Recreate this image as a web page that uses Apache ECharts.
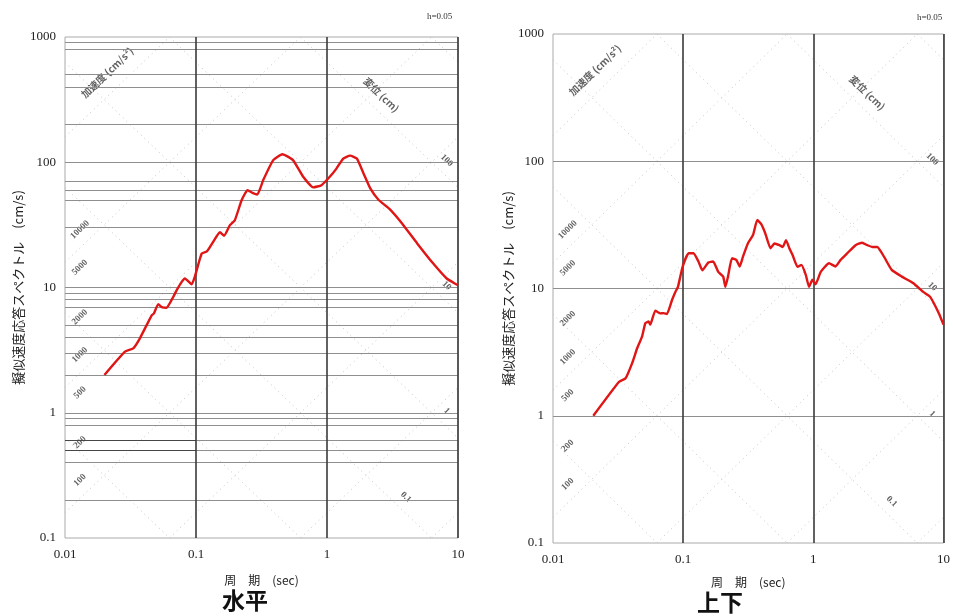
<!DOCTYPE html>
<html><head><meta charset="utf-8">
<script src="https://cdn.jsdelivr.net/npm/echarts@6/dist/echarts.min.js"></script>
<style>html,body{margin:0;padding:0;background:#fff}#c{width:953px;height:616px}</style>
</head><body><div id="c"></div>
<script>
// ---- data ----
const xTicks = [0.01, 0.1, 1, 10];
const yTicks = [0.1, 1, 10, 100, 1000];
// 水平 (horizontal) pseudo-velocity response spectrum
const hPeriod = [0.020,0.0287,0.0332,0.0373,0.0459,0.0477,0.0515,0.0548,0.0596,0.0671,0.0711,0.0778,0.0823,0.0926,0.098,0.1105,0.121,0.1354,0.1523,0.164,0.1816,0.198,0.2233,0.2475,0.2696,0.294,0.326,0.3886,0.457,0.55,0.658,0.786,0.908,1.05,1.18,1.33,1.50,1.69,1.90,2.14,2.48,2.97,3.65,4.88,6.45,8.2,9.7,10];
const hSv     = [2.0,3.07,3.27,3.93,6.0,6.2,7.37,6.98,6.9,8.43,9.5,11.1,11.8,10.6,12.2,18.7,19.4,23.2,27.6,25.9,31.5,34.5,49.9,59.9,57,55.3,72,104,116,104,76.5,63,65.6,76.5,89,107,113,107,81.4,61.8,50,42.8,33.5,22.5,15.6,11.8,10.6,10.4];
// 上下 (vertical) pseudo-velocity response spectrum
const vPeriod = [0.0204,0.0322,0.0361,0.0405,0.0443,0.0483,0.0512,0.0543,0.0559,0.0611,0.0669,0.0707,0.075,0.0821,0.0871,0.0912,0.099,0.110,0.120,0.131,0.1405,0.156,0.170,0.186,0.203,0.211,0.221,0.237,0.256,0.272,0.288,0.314,0.344,0.371,0.398,0.427,0.469,0.503,0.549,0.582,0.617,0.654,0.693,0.756,0.811,0.875,0.927,0.983,1.04,1.14,1.32,1.48,1.62,1.82,2.11,2.37,2.6,2.84,3.1,3.49,4.0,4.78,5.87,6.99,7.9,9.2,10];
const vSv     = [1.0,1.85,1.97,2.58,3.39,4.18,5.33,5.5,5.2,6.7,6.37,6.4,6.3,8.12,9.4,10.3,14.8,18.9,18.9,16.3,13.9,16.0,16.3,13.5,12.4,10.3,12.4,17.3,16.8,14.9,17.8,22.6,26.3,34.5,32.1,27.2,20.7,22.6,21.9,21.2,24.0,20.7,18.3,14.8,15.3,12.8,10.3,11.7,10.8,13.5,15.8,14.9,16.8,18.9,21.9,22.9,21.9,21.2,21.2,17.8,14.0,12.4,11.0,9.4,8.6,6.4,5.2];
// horizontal grid lines drawn in each panel
const leftHLines  = [0.2,0.4,0.5,0.6,0.8,0.9,1,2,3,4,5,7,8,9,10,30,50,60,70,100,200,400,500,800,900];
const leftShortLines = [0.5, 0.6];     // thin dark segments from 0.01 to 0.1
const rightHLines = [1, 10, 100];
const darkVLines  = [0.1, 1, 10];
// tripartite diagonals
const accelLines = [0.1,1,10,100,1000,10000,100000];
const dispLines  = [0.0001,0.001,0.01,0.1,1,10,100,1000];
const accelLabels = [100,200,500,1000,2000,5000,10000];
const dispLabels  = [100,10,1,0.1];
const dispLabelT  = [8.2,8.2,8.2,4.0];
const panelTitles = ['水平','上下'];

// ---- build ----
const TMIN=0.01,TMAX=10,SMIN=0.1,SMAX=1000,TWO_PI=2*Math.PI;
function accelSeg(A){
  const t1=Math.max(TMIN,TWO_PI*SMIN/A), t2=Math.min(TMAX,TWO_PI*SMAX/A);
  if(t1>=t2) return null;
  return [[t1,A*t1/TWO_PI],[t2,A*t2/TWO_PI]];
}
function dispSeg(D){
  const t1=Math.max(TMIN,TWO_PI*D/SMAX), t2=Math.min(TMAX,TWO_PI*D/SMIN);
  if(t1>=t2) return null;
  return [[t1,TWO_PI*D/t1],[t2,TWO_PI*D/t2]];
}
const fmt = v => String(+(+v).toPrecision(3));
const serif = 'Liberation Serif';
const jp = 'Noto Sans CJK JP';

const series=[];
function panel(gi, per, sv, hLines, shortLines){
  const diag={color:'#c4c4c4',width:1,type:[1,4]};
  accelLines.forEach(A=>{const s=accelSeg(A); if(s) series.push({type:'line',xAxisIndex:gi,yAxisIndex:gi,data:s,symbol:'none',silent:true,z:1,lineStyle:diag});});
  dispLines.forEach(D=>{const s=dispSeg(D); if(s) series.push({type:'line',xAxisIndex:gi,yAxisIndex:gi,data:s,symbol:'none',silent:true,z:1,lineStyle:diag});});
  // grid lines
  const ml=[];
  hLines.forEach(v=>ml.push({yAxis:v,lineStyle:{color:'#8f8f8f',width:1,type:'solid'}}));
  shortLines.forEach(v=>ml.push([{coord:[TMIN,v],lineStyle:{color:'#333',width:0.8,type:'solid'}},{coord:[0.1,v]}]));
  darkVLines.forEach(v=>ml.push({xAxis:v,lineStyle:{color:'#3a3a3a',width:1.6,type:'solid'}}));
  series.push({type:'line',xAxisIndex:gi,yAxisIndex:gi,data:[[1,1]],symbol:'none',lineStyle:{opacity:0},silent:true,z:2,
    markLine:{silent:true,symbol:'none',label:{show:false},animation:false,precision:6,lineStyle:{type:'solid'},data:ml}});
  // tripartite labels
  const labs=[];
  accelLabels.forEach(A=>{const T=0.013; labs.push({name:String(A),value:[T,A*T/TWO_PI*1.4],label:{rotate:44}});});
  dispLabels.forEach((D,i)=>{const T=dispLabelT[i]; labs.push({name:String(D),value:[T,TWO_PI*D/T*1.35],label:{rotate:-44}});});
  labs.push({name:'加速度 (cm/s²)',value:[0.021,520],label:{rotate:44,fontSize:10,fontFamily:jp}});
  labs.push({name:'変位 (cm)',value:[2.6,345],label:{rotate:-44,fontSize:10,fontFamily:jp}});
  series.push({type:'scatter',xAxisIndex:gi,yAxisIndex:gi,data:labs,symbolSize:0,silent:true,z:3,
    label:{show:true,position:'inside',formatter:p=>p.name,fontSize:9,fontWeight:'bold',color:'#3a3a3a',fontFamily:serif}});
  // spectrum curve
  series.push({type:'line',xAxisIndex:gi,yAxisIndex:gi,data:per.map((t,i)=>[t,sv[i]]),symbol:'none',smooth:0.15,z:10,
    lineStyle:{color:'#e01515',width:2.4}});
}
panel(0,hPeriod,hSv,leftHLines,leftShortLines);
panel(1,vPeriod,vSv,rightHLines,[]);

function xAx(gi,gap){return {type:'log',logBase:10,gridIndex:gi,min:TMIN,max:TMAX,
  axisLine:{show:false},axisTick:{show:false},splitLine:{show:false},minorSplitLine:{show:false},
  axisLabel:{formatter:fmt,fontSize:13,fontFamily:serif,color:'#222',margin:10,showMinLabel:true,showMaxLabel:true},
  name:'周　期　(sec)',nameLocation:'middle',nameGap:gap,nameTextStyle:{fontSize:12,fontFamily:jp,color:'#222'}};}
function yAx(gi,gap){return {type:'log',logBase:10,gridIndex:gi,min:SMIN,max:SMAX,
  axisLine:{show:false},axisTick:{show:false},splitLine:{show:false},minorSplitLine:{show:false},
  axisLabel:{formatter:fmt,fontSize:13,fontFamily:serif,color:'#222',margin:9,showMinLabel:true,showMaxLabel:true},
  name:'擬似速度応答スペクトル　(cm/s)',nameLocation:'middle',nameRotate:90,nameGap:gap,
  nameTextStyle:{fontSize:13,fontFamily:jp,color:'#222'}};}

const chart=echarts.init(document.getElementById('c'),null,{renderer:'canvas'});
chart.setOption({
  animation:false,
  backgroundColor:'#fff',
  grid:[{left:65,top:37,width:393,height:501,show:true,borderColor:'#aaa',borderWidth:1},
        {left:553,top:34,width:394,height:509,show:true,borderColor:'#aaa',borderWidth:1}],
  xAxis:[xAx(0,36),xAx(1,33)],
  yAxis:[yAx(0,40),yAx(1,37)],
  series:series,
  graphic:[
    {type:'text',left:427,top:12,style:{text:'h=0.05',fontSize:9,fontFamily:serif,fill:'#333'}},
    {type:'text',left:917,top:13,style:{text:'h=0.05',fontSize:9,fontFamily:serif,fill:'#333'}},
    {type:'text',left:222,top:589,style:{text:panelTitles[0],fontSize:23,fontWeight:'bold',fontFamily:jp,fill:'#111'}},
    {type:'text',left:697,top:591,style:{text:panelTitles[1],fontSize:23,fontWeight:'bold',fontFamily:jp,fill:'#111'}}
  ]
});
</script></body></html>
